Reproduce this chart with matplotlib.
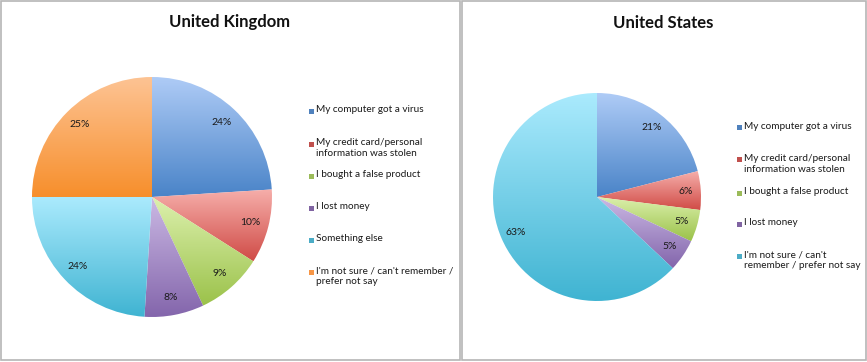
import matplotlib
matplotlib.use("Agg")
import matplotlib.pyplot as plt
import numpy as np
from matplotlib.patches import Rectangle
from matplotlib.colors import to_rgb

plt.rcParams['font.family'] = ['Lato', 'DejaVu Sans']

uk_categories = ["My computer got a virus",
                 "My credit card/personal\ninformation was stolen",
                 "I bought a false product",
                 "I lost money",
                 "Something else",
                 "I'm not sure / can't remember /\nprefer not say"]
uk_values = [24, 10, 9, 8, 24, 25]

us_categories = ["My computer got a virus",
                 "My credit card/personal\ninformation was stolen",
                 "I bought a false product",
                 "I lost money",
                 "I'm not sure / can't\nremember / prefer not say"]
us_values = [21, 6, 5, 5, 63]

# (light, dark, legend) colour per series
uk_colors = [("#aecbf6", "#4a84c8", "#4f81bd"),
             ("#f6aeaa", "#d04c47", "#c0504d"),
             ("#dcf0ad", "#9bc24a", "#9bbb59"),
             ("#cbb9e4", "#8466ac", "#8064a2"),
             ("#aaeafd", "#40b4d2", "#4bacc6"),
             ("#fdc393", "#f78f2c", "#f79646")]
us_colors = [uk_colors[0], uk_colors[1], uk_colors[2], uk_colors[3], uk_colors[4]]

W, H = 867, 362
fig = plt.figure(figsize=(W / 100, H / 100), dpi=100)
fig.patch.set_facecolor("white")

def px_rect(x0, y0, x1, y1):
    return [x0 / W, 1 - y1 / H, (x1 - x0) / W, (y1 - y0) / H]

# panel borders
for (x0, x1) in [(0.5, 460), (462, 866)]:
    fig.patches.append(Rectangle((x0 / W, 1 - 360 / H), (x1 - x0) / W, (359.5) / H,
                                 transform=fig.transFigure, fill=False,
                                 edgecolor="#b5b5b5", linewidth=1.2))

def grad_pie(ax, values, colors):
    wedges, texts, autotexts = ax.pie(values, startangle=90, counterclock=False,
                                      radius=1, autopct='%d%%', pctdistance=0.85,
                                      textprops=dict(fontsize=7.5, color="#1a1a1a"),
                                      wedgeprops=dict(linewidth=0))
    for w, (lt, dk, _) in zip(wedges, colors):
        w.set_facecolor("none")
        bb = w.get_path().get_extents()
        n = 64
        t = np.linspace(0, 1, n)[:, None]
        c0 = np.array(to_rgb(lt)); c1 = np.array(to_rgb(dk))
        img = (c0[None, :] * (1 - t) + c1[None, :] * t)[:, None, :]
        im = ax.imshow(img, extent=[bb.x0, bb.x1, bb.y0, bb.y1], origin='upper',
                       aspect='auto', zorder=0, interpolation='bilinear')
        im.set_clip_path(w)
    ax.set_xlim(-1, 1)
    ax.set_ylim(-1, 1)
    ax.set_aspect('equal')
    ax.axis('off')
    for a in autotexts:
        a.set_zorder(5)
    return wedges

ax1 = fig.add_axes(px_rect(32, 77, 272, 317))
grad_pie(ax1, uk_values, uk_colors)
ax2 = fig.add_axes(px_rect(493, 93, 701, 301))
grad_pie(ax2, us_values, us_colors)

fig.text(230 / W, 1 - 22 / H, "United Kingdom", ha='center', va='center',
         fontsize=12, fontweight='bold', color="#111111")
fig.text(663 / W, 1 - 23 / H, "United States", ha='center', va='center',
         fontsize=12, fontweight='bold', color="#111111")

def legend(cats, colors, xs, ys):
    for i, (cat, col) in enumerate(zip(cats, colors)):
        y = ys[i]
        fig.patches.append(Rectangle(((xs - 2.5) / W, 1 - (y + 2.5) / H), 5 / W, 5 / H,
                                     transform=fig.transFigure, facecolor=col[2],
                                     edgecolor='none'))
        fig.text((xs + 5.5) / W, 1 - (y - 6) / H, cat, ha='left', va='top',
                 fontsize=7.2, color="#1a1a1a", linespacing=1.25)

legend(uk_categories, uk_colors, 311, [111, 144, 176, 208, 240, 272])
legend(us_categories, us_colors, 739, [128, 160, 193, 224, 256])

fig.savefig("out.png", dpi=100)
